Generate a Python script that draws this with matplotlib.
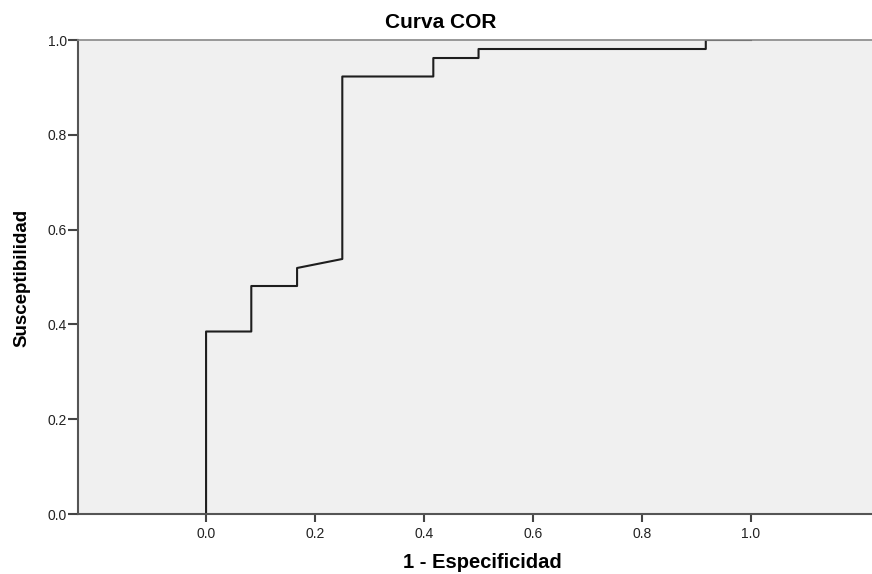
import matplotlib

matplotlib.use("Agg")

import matplotlib.pyplot as plt

plt.rcParams["font.family"] = ["Liberation Sans", "DejaVu Sans"]

# ROC step curve (1 - especificidad, susceptibilidad)
fpr = [0.0, 0.0, 0.083, 0.083, 0.167, 0.167, 0.25, 0.25, 0.417, 0.417, 0.5, 0.5, 0.917, 0.917, 1.0]
tpr = [0.0, 0.385, 0.385, 0.481, 0.481, 0.519, 0.538, 0.923, 0.923, 0.962, 0.962, 0.981, 0.981, 1.0, 1.0]

x_ticks = [0.0, 0.2, 0.4, 0.6, 0.8, 1.0]
y_ticks = [0.0, 0.2, 0.4, 0.6, 0.8, 1.0]

fig = plt.figure(figsize=(8.72, 5.74), dpi=100)
ax = fig.add_axes([78 / 872, 60 / 574, 1 - 78 / 872, 474 / 574])
ax.set_facecolor("#f0f0f0")

ax.plot(fpr, tpr, color="#1e1e1e", linewidth=1.5)

ax.set_xlim(-0.235, 1.222)
ax.set_ylim(0, 1)
ax.set_xticks(x_ticks)
ax.set_yticks(y_ticks)
ax.set_xticklabels([f"{t:.1f}" for t in x_ticks])
ax.set_yticklabels([f"{t:.1f}" for t in y_ticks])
ax.tick_params(axis="both", direction="out", width=1.5, color="#444444",
               labelsize=10, labelcolor="#222222")
ax.tick_params(axis="x", length=5.5, pad=4)
ax.tick_params(axis="y", length=7, pad=1)

for side in ("left", "bottom"):
    ax.spines[side].set_color("#555555")
    ax.spines[side].set_linewidth(1.5)
ax.spines["top"].set_color("#888888")
ax.spines["top"].set_linewidth(1.2)
ax.spines["right"].set_visible(False)

fig.text(0.505, 1 - 22 / 574, "Curva COR", ha="center", va="center",
         fontsize=15, fontweight="bold")
fig.text(482 / 872, 1 - 563 / 574, "1 - Especificidad", ha="center", va="center",
         fontsize=14.5, fontweight="bold")
fig.text(22 / 872, 1 - 278 / 574, "Susceptibilidad", ha="center", va="center",
         rotation=90, fontsize=13.5, fontweight="bold")

fig.savefig("out.png", dpi=100)
plt.close(fig)
